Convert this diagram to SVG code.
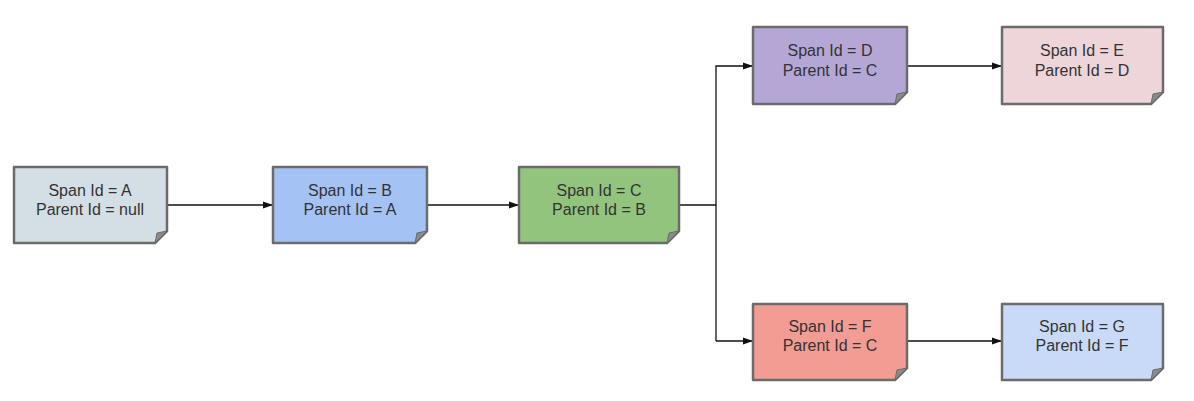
<svg xmlns="http://www.w3.org/2000/svg" width="1194" height="401" viewBox="0 0 1194 401">
<defs>
<marker id="arr" markerWidth="10" markerHeight="8" refX="9" refY="4" orient="auto" markerUnits="userSpaceOnUse">
<path d="M0,0.5 L10,4 L0,7.5 Z" fill="#111"/>
</marker>
</defs>
<style>
.box{stroke:#6b6b6b;stroke-width:2.5;stroke-linejoin:round}
.fold{fill:#8a8a8a;stroke:#6b6b6b;stroke-width:1}
.t{font-family:"Liberation Sans",Arial,sans-serif;font-size:16px;fill:#333;text-anchor:middle}
.c{fill:none;stroke:#111;stroke-width:1.3}
</style>
<rect width="1194" height="401" fill="#fff"/>
<g id="connectors">
<path class="c" d="M167,205 H272" marker-end="url(#arr)"/>
<path class="c" d="M427,205 H518" marker-end="url(#arr)"/>
<path class="c" d="M679,205 H716"/>
<path class="c" d="M716,341 V66 H752" marker-end="url(#arr)"/>
<path class="c" d="M716,341 H752" marker-end="url(#arr)"/>
<path class="c" d="M907,66 H1001" marker-end="url(#arr)"/>
<path class="c" d="M907,341 H1001" marker-end="url(#arr)"/>
</g>
<g id="nodeA">
<path class="box" fill="#d3dfe4" d="M14,167 H167 V231 L155,243 H14 Z"/>
<path class="fold" d="M155,243 L157,233 L167,231 Z"/>
<text class="t" x="90" y="196">Span Id = A</text>
<text class="t" x="90" y="215">Parent Id = null</text>
</g>
<g id="nodeB">
<path class="box" fill="#a4c2f4" d="M273,167 H427 V231 L415,243 H273 Z"/>
<path class="fold" d="M415,243 L417,233 L427,231 Z"/>
<text class="t" x="350" y="196">Span Id = B</text>
<text class="t" x="350" y="215">Parent Id = A</text>
</g>
<g id="nodeC">
<path class="box" fill="#93c47d" d="M519,167 H679 V231 L667,243 H519 Z"/>
<path class="fold" d="M667,243 L669,233 L679,231 Z"/>
<text class="t" x="599" y="196">Span Id = C</text>
<text class="t" x="599" y="215">Parent Id = B</text>
</g>
<g id="nodeD">
<path class="box" fill="#b4a7d6" d="M753,27 H907 V92 L895,104 H753 Z"/>
<path class="fold" d="M895,104 L897,94 L907,92 Z"/>
<text class="t" x="830" y="56">Span Id = D</text>
<text class="t" x="830" y="76">Parent Id = C</text>
</g>
<g id="nodeE">
<path class="box" fill="#edd5da" d="M1002,27 H1163 V92 L1151,104 H1002 Z"/>
<path class="fold" d="M1151,104 L1153,94 L1163,92 Z"/>
<text class="t" x="1082" y="56">Span Id = E</text>
<text class="t" x="1082" y="76">Parent Id = D</text>
</g>
<g id="nodeF">
<path class="box" fill="#f29c94" d="M753,304 H907 V368 L895,380 H753 Z"/>
<path class="fold" d="M895,380 L897,370 L907,368 Z"/>
<text class="t" x="830" y="332">Span Id = F</text>
<text class="t" x="830" y="351">Parent Id = C</text>
</g>
<g id="nodeG">
<path class="box" fill="#c9daf8" d="M1002,304 H1163 V368 L1151,380 H1002 Z"/>
<path class="fold" d="M1151,380 L1153,370 L1163,368 Z"/>
<text class="t" x="1082" y="332">Span Id = G</text>
<text class="t" x="1082" y="351">Parent Id = F</text>
</g>
</svg>
